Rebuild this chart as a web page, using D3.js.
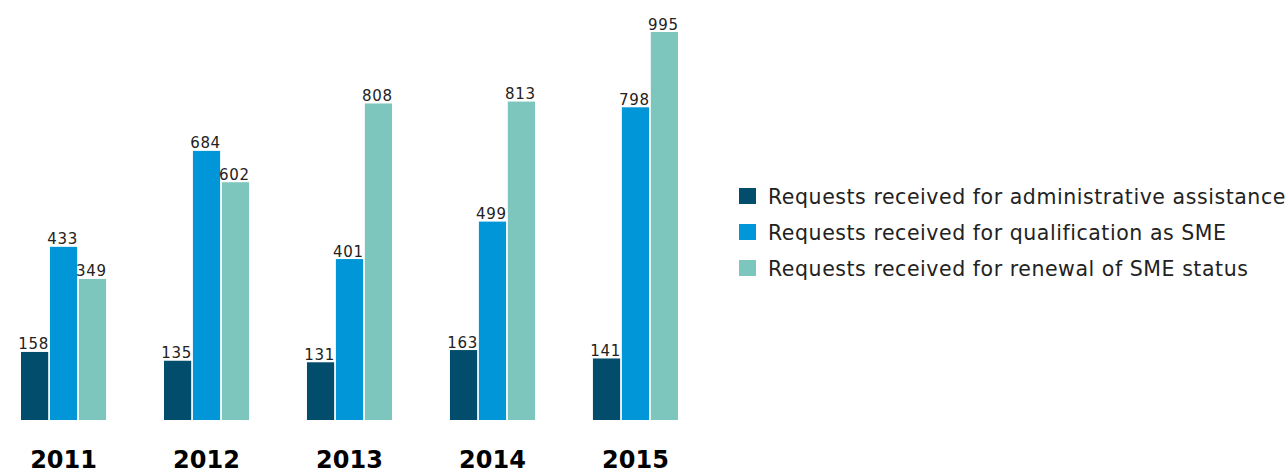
<!DOCTYPE html>
<html>
<head>
<meta charset="utf-8">
<script src="https://cdn.jsdelivr.net/npm/d3@7"></script>
<style>
  body { margin: 0; background: #fff; }
  svg { display: block; }
</style>
</head>
<body>
<svg id="chart" width="1288" height="475"></svg>
<script>
"use strict";
// data
var years = ["2011", "2012", "2013", "2014", "2015"];
var seriesNames = [
    "Requests received for administrative assistance",
    "Requests received for qualification as SME",
    "Requests received for renewal of SME status"
];
var adminAssistance = [158, 135, 131, 163, 141];
var qualificationSME = [433, 684, 401, 499, 798];
var renewalSME = [349, 602, 808, 813, 995];
var colors = ["#024d6c", "#0096d7", "#7cc6bd"];

var svg = d3.select("#chart");
var series = [adminAssistance, qualificationSME, renewalSME];

var x0 = d3.scaleBand().domain(years).range([21, 678]).paddingInner(0.405).paddingOuter(0);
var x1 = d3.scaleBand().domain(d3.range(series.length)).range([0, x0.bandwidth()]).paddingInner(0.06);
// axis baseline sits a bit under zero in the source
var y = d3.scaleLinear().domain([-20, 995]).range([420, 32]);

var groups = svg.selectAll("g.year")
    .data(years)
    .enter().append("g")
    .attr("class", "year")
    .attr("transform", function (d) { return "translate(" + x0(d) + ",0)"; });

groups.each(function (yr, i) {
    var g = d3.select(this);
    var vals = series.map(function (s, k) { return { k: k, v: s[i] }; });
    g.selectAll("rect")
        .data(vals)
        .enter().append("rect")
        .attr("x", function (d) { return x1(d.k); })
        .attr("y", function (d) { return y(d.v); })
        .attr("width", x1.bandwidth())
        .attr("height", function (d) { return y(-20) - y(d.v); })
        .attr("fill", function (d) { return colors[d.k]; });
    g.selectAll("text.val")
        .data(vals)
        .enter().append("text")
        .attr("class", "val")
        .attr("x", function (d) { return x1(d.k) + x1.bandwidth() / 2 - 1; })
        .attr("y", function (d) { return y(d.v) - 2.5; })
        .attr("text-anchor", "middle")
        .style("font-family", "DejaVu Sans")
        .style("font-size", "15px")
        .style("letter-spacing", "0.7px")
        .style("fill", "#222")
        .text(function (d) { return d.v; });
});

// year labels under the groups
svg.selectAll("text.yr")
    .data(years)
    .enter().append("text")
    .attr("class", "yr")
    .attr("x", function (d) { return x0(d) + x0.bandwidth() / 2; })
    .attr("y", 468)
    .attr("text-anchor", "middle")
    .style("font-family", "DejaVu Sans")
    .style("font-weight", "bold")
    .style("font-size", "24px")
    .style("fill", "#000")
    .text(function (d) { return d; });

// legend
var legend = svg.append("g").attr("transform", "translate(739,0)");
var ly = d3.scalePoint().domain(d3.range(seriesNames.length)).range([196, 268]);
var items = legend.selectAll("g")
    .data(seriesNames)
    .enter().append("g")
    .attr("transform", function (d, i) { return "translate(0," + ly(i) + ")"; });
items.append("rect")
    .attr("x", 0)
    .attr("y", -8)
    .attr("width", 17)
    .attr("height", 16)
    .attr("fill", function (d, i) { return colors[i]; });
items.append("text")
    .attr("x", 29)
    .attr("y", 7.5)
    .style("font-family", "DejaVu Sans")
    .style("font-size", "20.5px")
    .style("letter-spacing", "0.55px")
    .style("fill", "#222")
    .text(function (d) { return d; });
</script>
</body>
</html>
